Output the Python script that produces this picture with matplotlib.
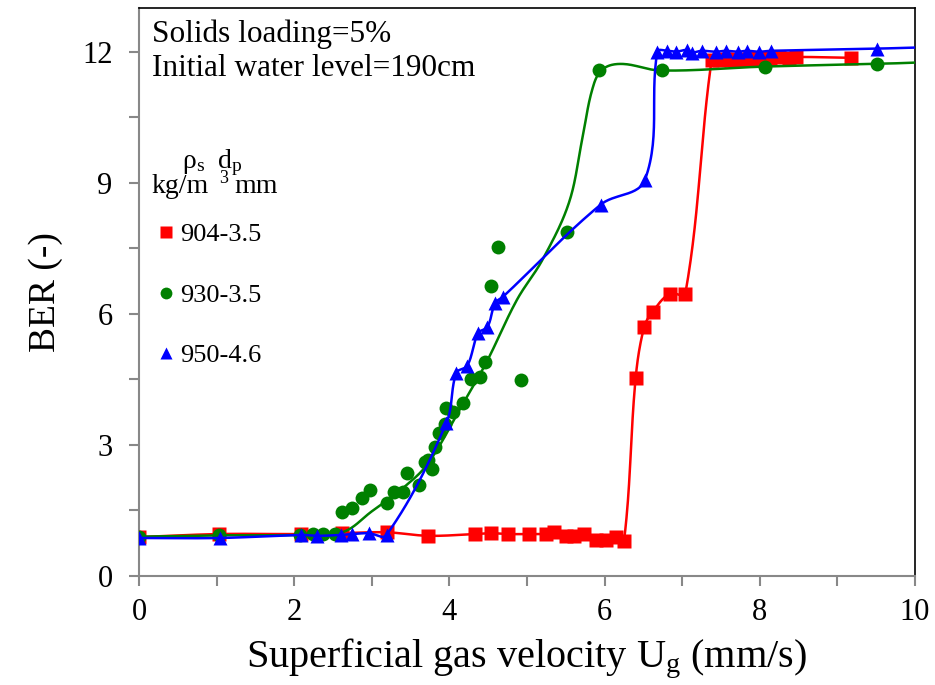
import numpy as np
import matplotlib
matplotlib.use('Agg')
import matplotlib.pyplot as plt
from matplotlib.lines import Line2D

plt.rcParams['font.family'] = ['Liberation Serif', 'DejaVu Serif']
plt.rcParams['mathtext.fontset'] = 'custom'
plt.rcParams['mathtext.rm'] = 'Liberation Serif'
plt.rcParams['mathtext.it'] = 'Liberation Serif:italic'

# 904-3.5 (red squares)
red_x = [0, 1.03, 2.09, 2.62, 3.19, 3.73, 4.33, 4.54, 4.76, 5.03, 5.25, 5.35, 5.5, 5.61,
         5.74, 5.89, 6.02, 6.15, 6.25, 6.4, 6.51, 6.62, 6.84, 7.04, 7.38, 7.47, 7.55, 7.63,
         7.71, 7.79, 7.87, 7.95, 8.03, 8.13, 8.25, 8.38, 8.47, 9.17]
red_y = [0.89, 0.96, 0.96, 0.98, 1.0, 0.92, 0.96, 0.98, 0.96, 0.96, 0.96, 1.0, 0.92, 0.92,
         0.96, 0.82, 0.82, 0.9, 0.8, 4.53, 5.70, 6.05, 6.46, 6.46, 11.82, 11.8, 11.84, 11.8,
         11.84, 11.82, 11.86, 11.84, 11.86, 11.84, 11.88, 11.86, 11.88, 11.86]

# 930-3.5 (green circles, scattered) and the fitted curve drawn through them
green_x = [0, 1.03, 2.08, 2.24, 2.37, 2.52, 2.62, 2.74, 2.87, 2.98, 3.19, 3.29, 3.4, 3.46,
           3.61, 3.69, 3.73, 3.78, 3.82, 3.87, 3.95, 3.94, 4.05, 4.18, 4.28, 4.4, 4.46,
           4.54, 4.62, 4.92, 5.52, 5.93, 6.74, 8.07, 9.51]
green_y = [0.9, 0.93, 0.94, 0.96, 0.96, 0.96, 1.47, 1.56, 1.79, 1.97, 1.68, 1.92, 1.92, 2.36,
           2.08, 2.61, 2.65, 2.45, 2.95, 3.27, 3.85, 3.48, 3.76, 3.96, 4.5, 4.56, 4.9,
           6.64, 7.53, 4.49, 7.87, 11.59, 11.59, 11.66, 11.72]
green_fit_x = [0, 1.03, 2.08, 2.62, 3.0, 3.42, 3.73, 4.18, 4.48, 4.87, 5.2, 5.54, 5.71,
               5.84, 5.97, 6.22, 6.72, 8.07, 9.5, 10.0]
green_fit_y = [0.9, 0.93, 0.94, 1.0, 1.48, 2.04, 2.59, 3.96, 4.9, 6.32, 7.24, 8.54, 9.98,
               11.13, 11.59, 11.72, 11.57, 11.66, 11.72, 11.75]

# 950-4.6 (blue triangles)
blue_x = [0, 1.04, 2.09, 2.3, 2.6, 2.75, 2.96, 3.19, 3.96, 4.09, 4.23, 4.37, 4.49, 4.59,
          4.69, 5.95, 6.52, 6.68, 6.81, 6.92, 7.06, 7.12, 7.25, 7.43, 7.56, 7.72, 7.83,
          7.99, 8.14, 9.51, 10.5]
blue_y = [0.87, 0.87, 0.94, 0.92, 0.94, 0.96, 0.98, 0.94, 3.5, 4.65, 4.81, 5.56, 5.70, 6.25,
          6.39, 8.5, 9.07, 12.0, 12.02, 12.0, 12.04, 11.98, 12.02, 12.0, 12.02, 12.0, 12.02,
          12.0, 12.02, 12.07, 12.12]

labels = ['904-3.5', '930-3.5', '950-4.6']
RED, GREEN, BLUE = '#FF0000', '#008000', '#0000FF'

# screen scale (px per data unit) used so the smoothing is done in picture space
KX, KY = 77.6, 43.7


def smooth(x, y, n=30, k=0.35):
    # Bezier smoothing through the points, tangent length tied to each segment
    p = np.column_stack([np.asarray(x, float) * KX, np.asarray(y, float) * KY])
    m = len(p)
    tang = np.zeros_like(p)
    for i in range(m):
        a = p[max(i - 1, 0)]
        b = p[min(i + 1, m - 1)]
        d = b - a
        tang[i] = d / (np.hypot(*d) + 1e-9)
    t = np.linspace(0, 1, n)[:, None]
    segs = []
    for i in range(m - 1):
        p1, p2 = p[i], p[i + 1]
        L = np.hypot(*(p2 - p1))
        b1 = p1 + tang[i] * L * k
        b2 = p2 - tang[i + 1] * L * k
        seg = ((1 - t) ** 3) * p1 + 3 * ((1 - t) ** 2) * t * b1 + 3 * (1 - t) * t ** 2 * b2 + t ** 3 * p2
        segs.append(seg)
    pts = np.vstack(segs)
    return pts[:, 0] / KX, pts[:, 1] / KY


W, H = 935, 685
fig = plt.figure(figsize=(W / 100, H / 100), dpi=100)
ax = fig.add_axes([139 / W, 1 - 576 / H, (915 - 139) / W, (576 - 8) / H])

ms = 9.5
lw = 1.8
sx, sy = smooth(red_x, red_y)
ax.plot(sx, sy, color=RED, lw=lw, zorder=2)
ax.plot(red_x, red_y, 's', color=RED, ms=ms, mec='none', zorder=3)

sx, sy = smooth(green_fit_x, green_fit_y)
ax.plot(sx, sy, color=GREEN, lw=lw, zorder=4)
ax.plot(green_x, green_y, 'o', color=GREEN, ms=ms + 0.5, mec='none', zorder=5)

sx, sy = smooth(blue_x, blue_y)
ax.plot(sx, sy, color=BLUE, lw=lw, zorder=6)
ax.plot(blue_x, blue_y, '^', color=BLUE, ms=ms + 0.5, mec='none', zorder=7)

ax.set_xlim(0, 10)
ax.set_ylim(0, 13)
ax.set_xticks(np.arange(0, 11, 2))
ax.set_xticks(np.arange(1, 10, 2), minor=True)
ax.set_yticks([0, 3, 6, 9, 12])
ax.set_yticks([1.5, 4.5, 7.5, 10.5], minor=True)
ax.tick_params(which='both', direction='out', length=7, width=1.5, color='#888888',
               labelsize=22, top=False, right=False)
ax.tick_params(axis='y', pad=12)
ax.tick_params(axis='x', pad=9)
for s in ['left', 'bottom']:
    ax.spines[s].set_color('#888888')
    ax.spines[s].set_linewidth(1.5)
for s in ['top', 'right']:
    ax.spines[s].set_color('black')
    ax.spines[s].set_linewidth(1.2)

ax.set_xlabel(r'Superficial gas velocity U$_\mathrm{g}$ (mm/s)', fontsize=29, labelpad=7)
ax.set_ylabel('BER (-)', fontsize=27, labelpad=14)


def fx(p):
    return p / W


def fy(p):
    return 1 - p / H


fig.text(fx(152), fy(42), 'Solids loading=5%', fontsize=22.5, va='baseline')
fig.text(fx(152), fy(76), 'Initial water level=190cm', fontsize=22.5, va='baseline')
fig.text(fx(182), fy(168), r'$\mathrm{\rho_s}$', fontsize=20, va='baseline')
fig.text(fx(217), fy(168), r'd$_\mathrm{p}$', fontsize=20, va='baseline')
fig.text(fx(152), fy(193), 'kg/m', fontsize=20, va='baseline')
fig.text(fx(219), fy(183), '3', fontsize=13, va='baseline')
fig.text(fx(234), fy(193), 'mm', fontsize=20, va='baseline')

handles = [Line2D([], [], ls='none', marker='s', color=RED, ms=8, mec='none'),
           Line2D([], [], ls='none', marker='o', color=GREEN, ms=8.5, mec='none'),
           Line2D([], [], ls='none', marker='^', color=BLUE, ms=8.5, mec='none')]
leg = fig.legend(handles, labels, loc='upper left', bbox_to_anchor=(fx(157), fy(223)),
                 frameon=False, fontsize=19, handlelength=0.7, handletextpad=0.18,
                 labelspacing=1.4, borderpad=0, borderaxespad=0)

fig.savefig('out.png', dpi=100)
